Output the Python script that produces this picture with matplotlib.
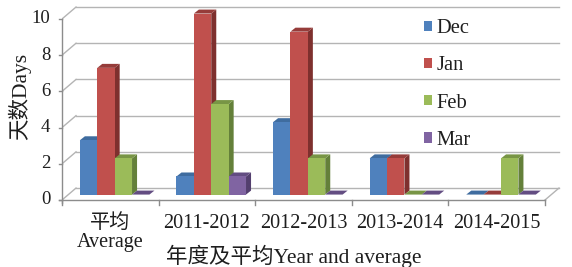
import matplotlib
matplotlib.use("Agg")
import matplotlib.pyplot as plt
from matplotlib.patches import Polygon, Patch

groups = ["平均\nAverage", "2011-2012", "2012-2013", "2013-2014", "2014-2015"]
series = ["Dec", "Jan", "Feb", "Mar"]
dec = [3, 1, 4, 2, 0]
jan = [7, 10, 9, 2, 0]
feb = [2, 5, 2, 0, 2]
mar = [0, 1, 0, 0, 0]
values = [dec, jan, feb, mar]
yticks = [0, 2, 4, 6, 8, 10]

front = ["#4F81BD", "#C0504D", "#9BBB59", "#8064A2"]
top = ["#3F6C9F", "#963C3A", "#789545", "#634D82"]
side = ["#355C88", "#7E302E", "#64803A", "#533F6E"]

FONT = ["Liberation Serif", "Noto Sans CJK SC"]
plt.rcParams["font.family"] = FONT

fig = plt.figure(figsize=(5.72, 2.67), dpi=100)
ax = fig.add_axes([62 / 572, 67 / 267, 502.3 / 572, 195.5 / 267])
ax.set_xlim(0, 5.2)
ax.set_ylim(0, 10.8)
ax.axis("off")

n = len(groups)
wdx, wdy = 0.145, 0.66      # back wall offset
bx, by = 0.045, 0.3         # bar front offset
ddx, ddy = 0.052, 0.22      # bar depth
bw = 0.18
grid_c = "#B4B4B4"
axis_c = "#8C8C8C"
txt_c = "#1E1E1E"

# gridlines on back wall + diagonals
for v in yticks:
    ax.plot([wdx, n + wdx], [v + wdy, v + wdy], color=grid_c, lw=1.0, zorder=1)
    ax.plot([0, wdx], [v, v + wdy], color=grid_c, lw=1.0, zorder=1)
# floor right diagonal
ax.plot([n, n + wdx], [0, wdy], color=grid_c, lw=1.0, zorder=1)

# axes lines
ax.plot([0, 0], [-0.15, 10], color=axis_c, lw=1.0, zorder=5, clip_on=False)
ax.plot([-0.03, n], [0, 0], color=axis_c, lw=1.0, zorder=5, clip_on=False)
for v in yticks:
    ax.plot([-0.03, 0.0], [v, v], color=axis_c, lw=1.0, zorder=5, clip_on=False)
    ax.text(-0.12, v, str(v), ha="right", va="center", fontsize=13.5, color=txt_c)
for g in range(n + 1):
    ax.plot([g, g], [0, -0.3], color=axis_c, lw=1.0, zorder=5, clip_on=False)

# bars
for g in range(n):
    for i in range(len(series)):
        v = values[i][g]
        x0 = g + 0.5 - 2 * bw + i * bw + bx
        x1 = x0 + bw
        y0 = by
        y1 = by + v
        ax.add_patch(Polygon([(x1, y0), (x1 + ddx, y0 + ddy), (x1 + ddx, y1 + ddy), (x1, y1)],
                             closed=True, fc=side[i], ec="none", zorder=3))
        ax.add_patch(Polygon([(x0, y1), (x0 + ddx, y1 + ddy), (x1 + ddx, y1 + ddy), (x1, y1)],
                             closed=True, fc=top[i], ec="none", zorder=3))
        if v > 0:
            ax.bar(x0, v, width=bw, bottom=y0, align="edge", color=front[i],
                   edgecolor="none", zorder=3)

# group labels
for g, lab in enumerate(groups):
    ax.text(g + 0.5, -0.75, lab, ha="center", va="top", fontsize=14.5,
            color=txt_c, linespacing=1.0)

fig.text(294 / 572, 1 - 256 / 267, "年度及平均Year and average", ha="center", va="center",
         fontsize=15.5, color=txt_c)
fig.text(20 / 572, 1 - 96 / 267, "天数Days", ha="center", va="center", rotation=90,
         fontsize=15.5, color=txt_c)

handles = [Patch(facecolor=front[i], edgecolor="none") for i in range(len(series))]
leg = fig.legend(handles, series, loc="upper left", bbox_to_anchor=(424 / 572, 1 - 19 / 267),
                 frameon=False, fontsize=14.8, handlelength=0.39, handleheight=0.39,
                 handletextpad=0.2, labelspacing=0.89, borderpad=0, borderaxespad=0)
for t in leg.get_texts():
    t.set_color(txt_c)

fig.savefig("out.png", dpi=100)
